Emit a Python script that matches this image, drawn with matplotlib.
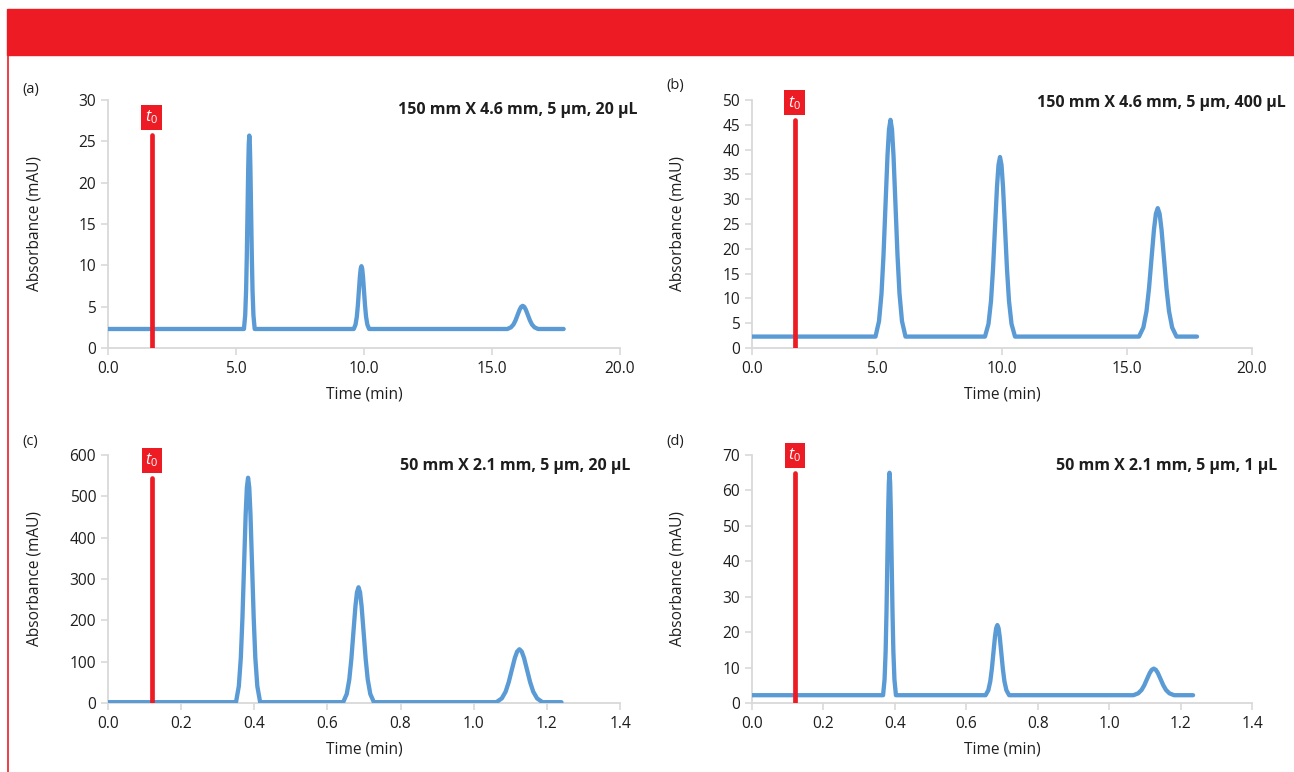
import matplotlib
matplotlib.use('Agg')
import matplotlib.pyplot as plt

plt.rcParams['font.family'] = ['Open Sans', 'DejaVu Sans']
plt.rcParams['mathtext.fontset'] = 'custom'
plt.rcParams['mathtext.it'] = 'Open Sans:italic'
plt.rcParams['mathtext.rm'] = 'Open Sans'

RED = '#ED1C24'
BLUE = '#5B9BD5'
GREY = '#D9D9D9'
TXT = '#1E1E1E'

# (a) 150 mm x 4.6 mm, 20 uL
time_a = [0.0,
          5.31, 5.359, 5.394, 5.422, 5.45, 5.478, 5.499, 5.52, 5.541, 5.562, 5.59, 5.618, 5.646, 5.681, 5.73,
          9.6, 9.67, 9.72, 9.76, 9.8, 9.84, 9.87, 9.9, 9.93, 9.96, 10.0, 10.04, 10.08, 10.13, 10.2,
          15.6, 15.74, 15.84, 15.92, 16.0, 16.08, 16.14, 16.2, 16.26, 16.32, 16.4, 16.48, 16.56, 16.66, 16.8,
          17.8]
abs_a = [2.3,
         2.3, 3.96, 6.93, 11.08, 16.49, 21.85, 24.67, 25.7, 24.67, 21.85, 16.49, 11.08, 6.93, 3.96, 2.3,
         2.3, 2.84, 3.8, 5.15, 6.91, 8.65, 9.57, 9.9, 9.57, 8.65, 6.91, 5.15, 3.8, 2.84, 2.3,
         2.3, 2.5, 2.85, 3.35, 4.0, 4.64, 4.98, 5.1, 4.98, 4.64, 4.0, 3.35, 2.85, 2.5, 2.3,
         2.3]

# (b) 150 mm x 4.6 mm, 400 uL
time_b = [0.0,
          4.94, 5.08, 5.18, 5.26, 5.34, 5.42, 5.48, 5.54, 5.6, 5.66, 5.74, 5.82, 5.9, 6.0, 6.14,
          9.32, 9.46, 9.56, 9.64, 9.72, 9.8, 9.86, 9.92, 9.98, 10.04, 10.12, 10.2, 10.28, 10.38, 10.52,
          15.48, 15.655, 15.78, 15.88, 15.98, 16.08, 16.155, 16.23, 16.305, 16.38, 16.48, 16.58, 16.68, 16.805, 16.98,
          17.8]
abs_b = [2.3,
         2.3, 5.4, 10.95, 18.7, 28.8, 38.8, 44.08, 46.0, 44.08, 38.8, 28.8, 18.7, 10.95, 5.4, 2.3,
         2.3, 4.87, 9.46, 15.89, 24.26, 32.54, 36.91, 38.5, 36.91, 32.54, 24.26, 15.89, 9.46, 4.87, 2.3,
         2.3, 4.14, 7.43, 12.02, 18.01, 23.93, 27.06, 28.2, 27.06, 23.93, 18.01, 12.02, 7.43, 4.14, 2.3,
         2.3]

# (c) 50 mm x 2.1 mm, 20 uL
time_c = [0.0,
          0.35, 0.3577, 0.3632, 0.3676, 0.372, 0.3764, 0.3797, 0.383, 0.3863, 0.3896, 0.394, 0.3984, 0.4028, 0.4083, 0.416,
          0.643, 0.6528, 0.6598, 0.6654, 0.671, 0.6766, 0.6808, 0.685, 0.6892, 0.6934, 0.699, 0.7046, 0.7102, 0.7172, 0.727,
          1.062, 1.0767, 1.0872, 1.0956, 1.104, 1.1124, 1.1187, 1.125, 1.1313, 1.1376, 1.146, 1.1544, 1.1628, 1.1733, 1.188,
          1.24]
abs_c = [2.0,
         2.0, 40.6, 109.5, 205.8, 331.3, 455.6, 521.1, 545, 521.1, 455.6, 331.3, 205.8, 109.5, 40.6, 2.0,
         2.0, 21.7, 57.0, 106.3, 170.6, 234.2, 267.8, 280, 267.8, 234.2, 170.6, 106.3, 57.0, 21.7, 2.0,
         2.0, 11.09, 27.3, 50.0, 79.6, 108.9, 124.4, 130, 124.4, 108.9, 79.6, 50.0, 27.3, 11.09, 2.0,
         2.0]

# (d) 50 mm x 2.1 mm, 1 uL
time_d = [0.0,
          0.367, 0.3712, 0.3742, 0.3766, 0.379, 0.3814, 0.3832, 0.385, 0.3868, 0.3886, 0.391, 0.3934, 0.3958, 0.3988, 0.403,
          0.654, 0.6617, 0.6672, 0.6716, 0.676, 0.6804, 0.6837, 0.687, 0.6903, 0.6936, 0.698, 0.7024, 0.7068, 0.7123, 0.72,
          1.068, 1.0813, 1.0908, 1.0984, 1.106, 1.1136, 1.1193, 1.125, 1.1307, 1.1364, 1.144, 1.1516, 1.1592, 1.1687, 1.182,
          1.235]
abs_d = [2.2,
         2.2, 6.66, 14.63, 25.77, 40.29, 54.66, 62.24, 65.0, 62.24, 54.66, 40.29, 25.77, 14.63, 6.66, 2.2,
         2.2, 3.61, 6.12, 9.63, 14.21, 18.74, 21.13, 22.0, 21.13, 18.74, 14.21, 9.63, 6.12, 3.61, 2.2,
         2.2, 2.73, 3.68, 5.01, 6.75, 8.46, 9.37, 9.7, 9.37, 8.46, 6.75, 5.01, 3.68, 2.73, 2.2,
         2.2]

t0 = [1.7, 1.7, 0.12, 0.12]
t0_top = [25.8, 46, 545, 65]
conditions = ['150 mm X 4.6 mm, 5 µm, 20 µL', '150 mm X 4.6 mm, 5 µm, 400 µL',
              '50 mm X 2.1 mm, 5 µm, 20 µL', '50 mm X 2.1 mm, 5 µm, 1 µL']
panel_tags = ['(a)', '(b)', '(c)', '(d)']
x_max = [20, 20, 1.4, 1.4]
x_step = [5, 5, 0.2, 0.2]
y_max = [30, 50, 600, 70]
y_step = [5, 5, 100, 10]

W, H = 1294, 772
fig = plt.figure(figsize=(W / 100, H / 100), dpi=100)

# red header band and left rule
fig.patches.append(plt.Rectangle((7 / W, 1 - 55 / H), 1 - 7 / W, 46 / H,
                                 transform=fig.transFigure, color=RED, zorder=0))
fig.lines.append(plt.Line2D([8 / W, 8 / W], [0, 1 - 55 / H], transform=fig.transFigure,
                            color=RED, lw=1.2))

rects = [[108, 100, 620, 348], [752, 100, 1252, 348],
         [108, 455, 620, 703], [752, 455, 1252, 703]]
tag_pos = [(22, 90), (666, 86), (22, 441), (666, 441)]
cond_pos = [(638, 110), (1286, 103), (630, 466), (1277, 466)]

series = [(time_a, abs_a), (time_b, abs_b), (time_c, abs_c), (time_d, abs_d)]

for i in range(4):
    x0, y0, x1, y1 = rects[i]
    ax = fig.add_axes([x0 / W, 1 - y1 / H, (x1 - x0) / W, (y1 - y0) / H])
    t, a = series[i]
    ax.plot(t, a, color=BLUE, lw=3.1, solid_joinstyle='round', solid_capstyle='round', zorder=3)
    ax.plot([t0[i], t0[i]], [0, t0_top[i]], color=RED, lw=3.4, solid_capstyle='round', zorder=4)
    ax.annotate(r'$t_0$', (t0[i], t0_top[i]), xytext=(0, 6), textcoords='offset points',
                ha='center', va='bottom', color='white', fontsize=11.5,
                bbox=dict(boxstyle='square,pad=0.22', fc=RED, ec='none'))

    ax.set_xlim(0, x_max[i])
    ax.set_ylim(0, y_max[i])
    n = int(round(x_max[i] / x_step[i]))
    ax.set_xticks([k * x_step[i] for k in range(n + 1)])
    ax.set_xticklabels(['{:.1f}'.format(k * x_step[i]) for k in range(n + 1)])
    m = int(round(y_max[i] / y_step[i]))
    ax.set_yticks([k * y_step[i] for k in range(m + 1)])

    for s in ['top', 'right']:
        ax.spines[s].set_visible(False)
    for s in ['left', 'bottom']:
        ax.spines[s].set_color(GREY)
        ax.spines[s].set_linewidth(1.3)
    ax.tick_params(colors=GREY, labelcolor=TXT, labelsize=11.2, length=5, width=1.2)
    ax.tick_params(axis='x', pad=4)
    ax.set_xlabel('Time (min)', fontsize=11.2, color=TXT, labelpad=7)
    ax.set_ylabel('Absorbance (mAU)', fontsize=11.2, color=TXT)
    ax.yaxis.set_label_coords(-66 / (x1 - x0), 0.5)

    fig.text(tag_pos[i][0] / W, 1 - tag_pos[i][1] / H, panel_tags[i], fontsize=10.5,
             color=TXT, va='center', ha='left')
    fig.text(cond_pos[i][0] / W, 1 - cond_pos[i][1] / H, conditions[i], fontsize=11.5,
             fontweight='bold', color=TXT, va='center', ha='right')

fig.savefig('out.png', dpi=100)
